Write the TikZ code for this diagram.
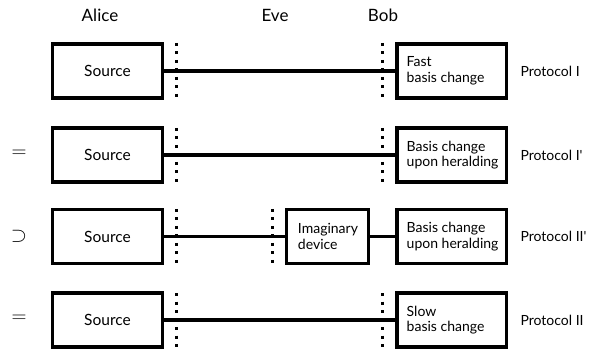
\documentclass[tikz,border=0pt]{standalone}
\usepackage{fontspec}
\setmainfont{Lato}
\newfontfamily\protfont{Lato}
\begin{document}
\begin{tikzpicture}[x=1pt,y=-1pt,
  box/.style={draw,line width=3.5pt,minimum height=54pt,inner sep=0pt},
  srcbox/.style={box,minimum width=110pt,font=\fontsize{15.5}{16}\selectfont},
  bobbox/.style={box,minimum width=109.5pt},
  evebox/.style={box,minimum width=82pt},
  boxtext/.style={anchor=west,align=left,inner sep=0pt,font=\fontsize{14}{15.5}\selectfont},
  conn/.style={line width=3.5pt},
  dots/.style={line width=3pt,dash pattern=on 3pt off 5.5pt},
  lab/.style={font=\fontsize{17}{17}\selectfont},
  prot/.style={font=\protfont\fontsize{14}{14}\selectfont,anchor=west},
  rel/.style={font=\fontsize{22}{22}\selectfont}
]
\useasboundingbox (0,0) rectangle (596,352);
\node[lab] (alice) at (100,15) {Alice};
\node[lab] (eve) at (275,15) {Eve};
\node[lab] (bob) at (383,15) {Bob};

% Row 1
\draw[dots] (176.5,43) -- (176.5,100);
\draw[dots] (382.5,43) -- (382.5,100);
\node[srcbox] (s1) at (107.5,71) {Source};
\node[bobbox] (b1) at (451.5,71) {};
\node[boxtext] (t1) at ([xshift=11.5pt]b1.west) {Fast\\basis change};
\draw[conn] (s1.east) -- (b1.west);
\node[prot] (p1) at (517,71) {Protocol I};

% Row 2
\draw[dots] (176.5,128) -- (176.5,185);
\draw[dots] (382.5,128) -- (382.5,185);
\node[srcbox] (s2) at (107.5,155) {Source};
\node[bobbox] (b2) at (451.5,155) {};
\node[boxtext] (t2) at ([xshift=11.5pt]b2.west) {Basis change\\upon heralding};
\draw[conn] (s2.east) -- (b2.west);
\node[prot] (p2) at (517,155) {Protocol I'};
\node[rel] (r2) at (19,154) {$=$};

% Row 3
\draw[dots] (176.5,209) -- (176.5,266);
\draw[dots] (272.5,209) -- (272.5,266);
\node[srcbox] (s3) at (107.5,236.5) {Source};
\node[evebox] (e3) at (327.5,236.5) {};
\node[boxtext] (te3) at ([xshift=13pt]e3.west) {Imaginary\\device};
\node[bobbox] (b3) at (451.5,236.5) {};
\node[boxtext] (t3) at ([xshift=11.5pt]b3.west) {Basis change\\upon heralding};
\draw[conn] (s3.east) -- (e3.west);
\draw[conn] (e3.east) -- (b3.west);
\node[prot] (p3) at (517,236.5) {Protocol II'};
\node[rel] (r3) at (19,236) {$\supset$};

% Row 4
\draw[dots] (176.5,293) -- (176.5,350);
\draw[dots] (382.5,293) -- (382.5,350);
\node[srcbox] (s4) at (107.5,320) {Source};
\node[bobbox] (b4) at (451.5,320) {};
\node[boxtext] (t4) at ([xshift=11.5pt]b4.west) {Slow\\basis change};
\draw[conn] (s4.east) -- (b4.west);
\node[prot] (p4) at (517,320) {Protocol II};
\node[rel] (r4) at (19,319) {$=$};
\end{tikzpicture}
\end{document}
